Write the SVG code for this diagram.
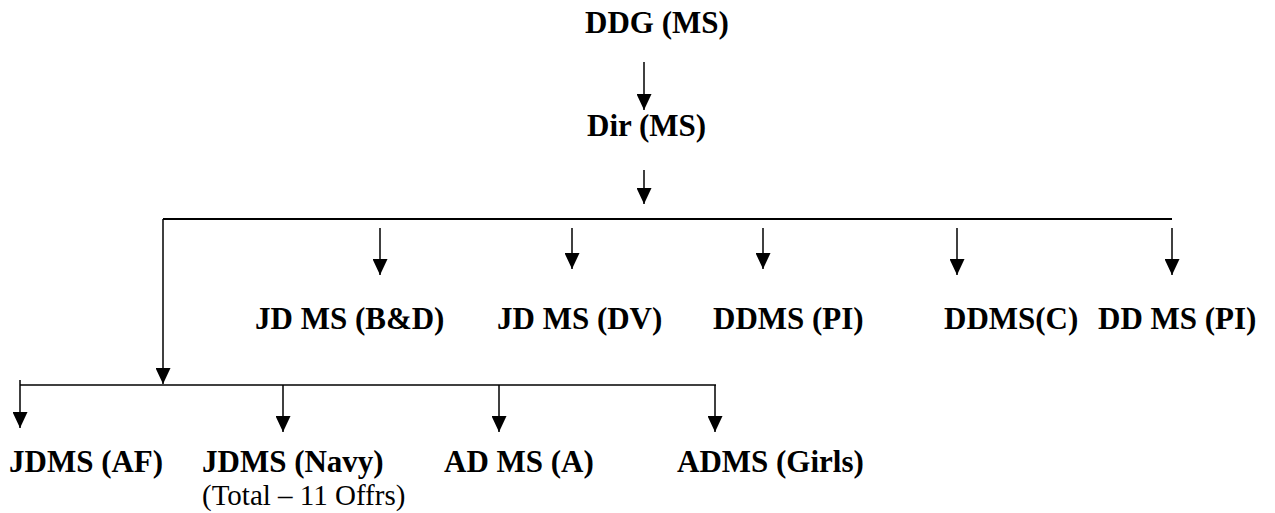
<svg xmlns="http://www.w3.org/2000/svg" width="1275" height="513" viewBox="0 0 1275 513">
<style>
.b{font-family:'Liberation Serif','Times New Roman',Times,serif;font-weight:700;font-size:31px;fill:#000}
.r{font-family:'Liberation Serif','Times New Roman',Times,serif;font-weight:400;font-size:29px;fill:#000}
.c line{stroke:#000;stroke-width:1.5;fill:none}
.c .a{marker-end:url(#ah)}
</style>
<defs>
<marker id="ah" markerUnits="userSpaceOnUse" markerWidth="16" markerHeight="15" refX="16" refY="7.5" orient="auto" viewBox="0 0 16 15">
<path d="M0,0 L16,7.5 L0,15 z" fill="#000"/>
</marker>
</defs>
<rect width="1275" height="513" fill="#fff"/>
<g class="c" id="connectors">
<line class="a" x1="644" y1="62" x2="644" y2="110"/>
<line class="a" x1="644" y1="170" x2="644" y2="204"/>
<line x1="163" y1="219" x2="1172" y2="219" style="stroke-width:2"/>
<line class="a" x1="163" y1="219" x2="163" y2="384"/>
<line x1="20" y1="385" x2="716" y2="385"/>
<line class="a" x1="20" y1="380" x2="20" y2="428"/>
<line class="a" x1="283" y1="385" x2="283" y2="432"/>
<line class="a" x1="499" y1="385" x2="499" y2="432"/>
<line class="a" x1="715" y1="385" x2="715" y2="432"/>
<line class="a" x1="380" y1="228" x2="380" y2="275"/>
<line class="a" x1="572" y1="228" x2="572" y2="269"/>
<line class="a" x1="763" y1="228" x2="763" y2="269"/>
<line class="a" x1="957" y1="228" x2="957" y2="275"/>
<line class="a" x1="1172" y1="228" x2="1172" y2="275"/>
</g>
<g id="ddg"><text class="b" x="585" y="33">DDG (MS)</text></g>
<g id="dir"><text class="b" x="587" y="136">Dir (MS)</text></g>
<g id="jdms-bd"><text class="b" x="255" y="329">JD MS (B&amp;D)</text></g>
<g id="jdms-dv"><text class="b" x="497" y="329">JD MS (DV)</text></g>
<g id="ddms-pi"><text class="b" x="713" y="329">DDMS (PI)</text></g>
<g id="ddms-c"><text class="b" x="944" y="329">DDMS(C)</text></g>
<g id="ddms-pi2"><text class="b" x="1098" y="329">DD MS (PI)</text></g>
<g id="jdms-af"><text class="b" x="9" y="472">JDMS (AF)</text></g>
<g id="jdms-navy"><text class="b" x="202" y="472">JDMS (Navy)</text><text class="r" x="202" y="505">(Total – 11 Offrs)</text></g>
<g id="adms-a"><text class="b" x="444" y="472">AD MS (A)</text></g>
<g id="adms-girls"><text class="b" x="677" y="472">ADMS (Girls)</text></g>
</svg>
